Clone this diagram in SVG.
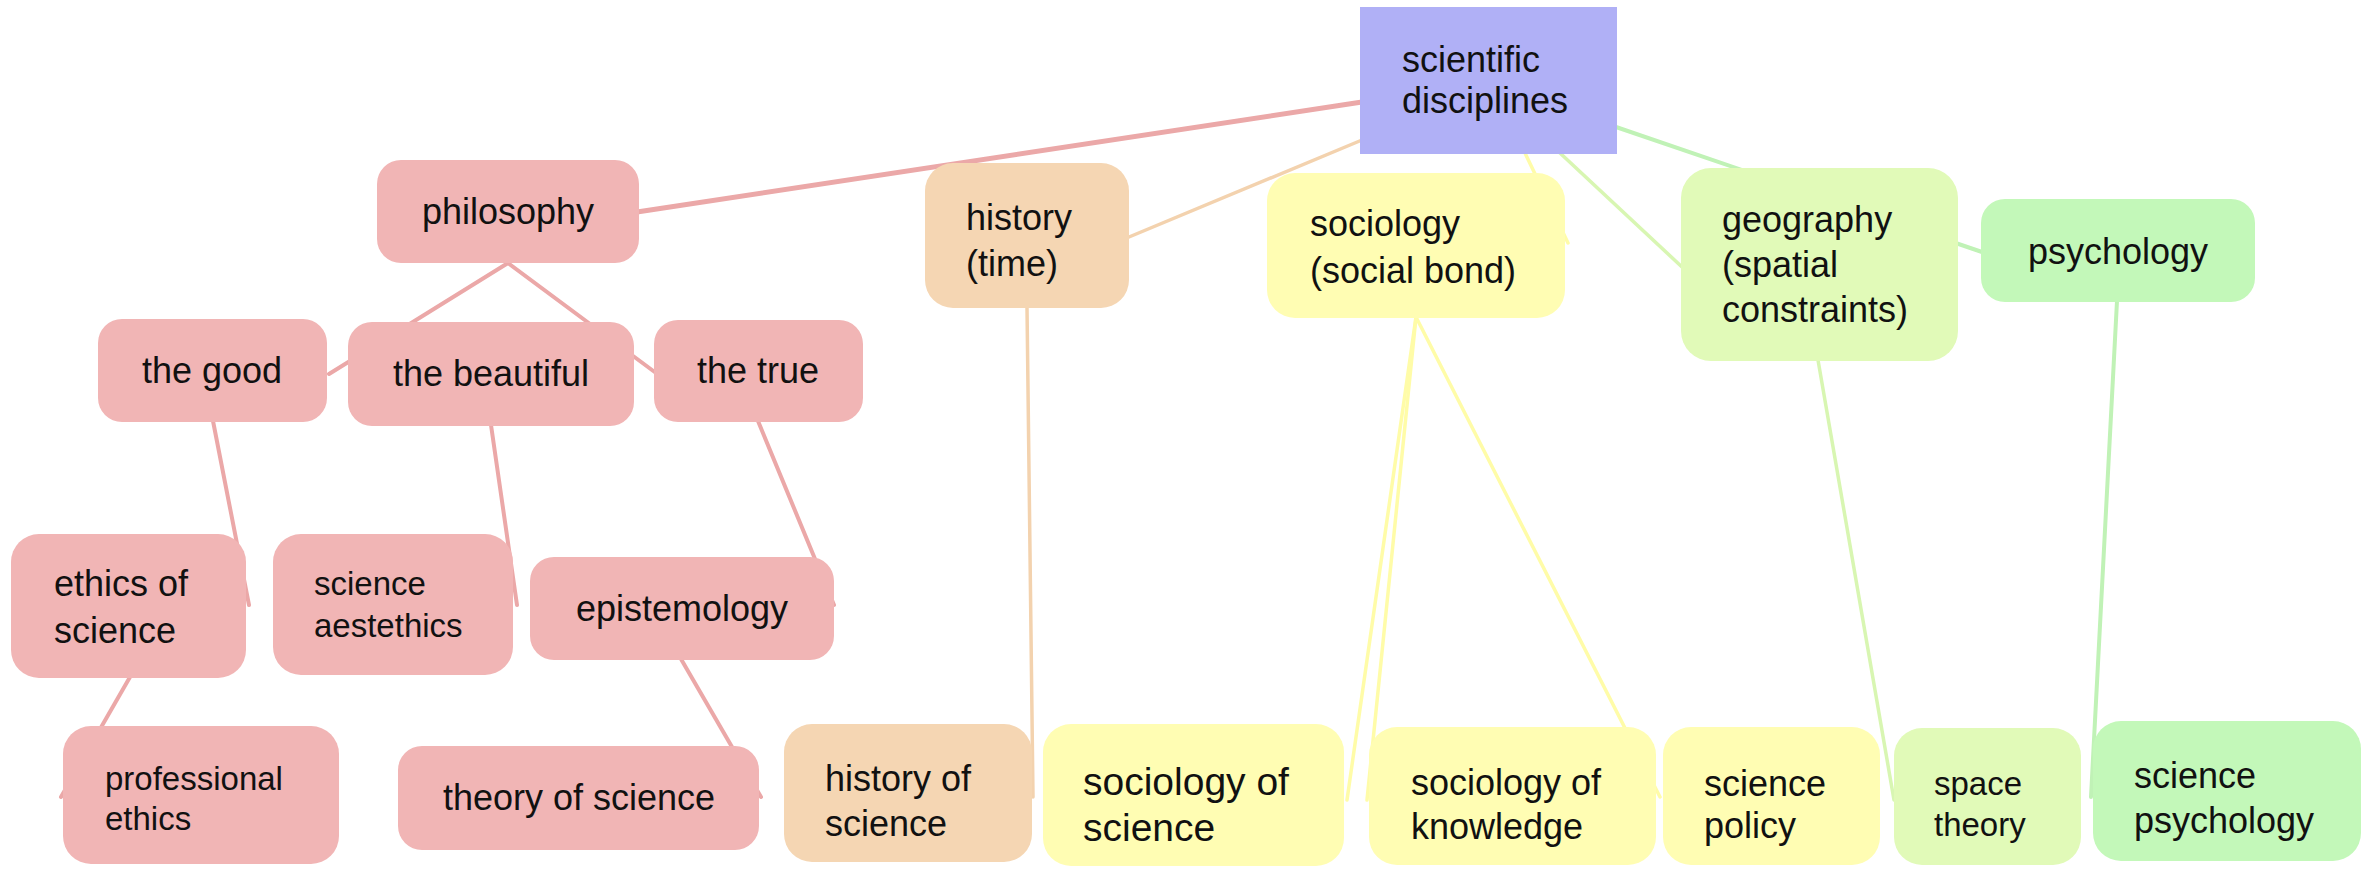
<svg xmlns="http://www.w3.org/2000/svg" width="2374" height="870" viewBox="0 0 2374 870">
<style>
text{font-family:"Liberation Sans",Arial,Helvetica,sans-serif;font-size:36px;fill:#111}
.c{text-anchor:middle}
.sm{font-size:33px}
.lg{font-size:39px}
.pk rect{fill:#F1B5B5}
.or rect{fill:#F5D6B3}
.ye rect{fill:#FFFDB3}
.li rect{fill:#E1FAB8}
.gr rect{fill:#C3F8B9}
line{fill:none;stroke-linecap:round}
.lp{stroke:#EBA8A8;stroke-width:5}
.lo{stroke:#F3D2AE;stroke-width:3.5}
.ly{stroke:#FFFCA8;stroke-width:3.5}
.ll{stroke:#D8F6B2;stroke-width:3.5}
.lg2{stroke:#C0F2B6;stroke-width:4}
</style>
<rect width="2374" height="870" fill="#ffffff"/>
<g id="connectors">
<line class="lp" x1="1362" y1="102" x2="637" y2="212"/>
<line class="lp" style="stroke-width:4" x1="508" y1="263" x2="329" y2="374"/>
<line class="lp" style="stroke-width:4" x1="508" y1="263" x2="656" y2="373"/>
<line class="lp" style="stroke-width:4" x1="213" y1="421" x2="249" y2="605"/>
<line class="lp" style="stroke-width:4" x1="491" y1="425" x2="517" y2="605"/>
<line class="lp" style="stroke-width:4" x1="758" y1="421" x2="834" y2="605"/>
<line class="lp" style="stroke-width:4" x1="130" y1="677" x2="61" y2="797"/>
<line class="lp" style="stroke-width:4" x1="681" y1="659" x2="761" y2="797"/>
<line class="lo" x1="1362" y1="140" x2="1129" y2="237"/>
<line class="lo" x1="1027" y1="307" x2="1033" y2="797"/>
<line class="ly" x1="1525" y1="153" x2="1568" y2="243"/>
<line class="ly" x1="1416" y1="317" x2="1347" y2="800"/>
<line class="ly" x1="1416" y1="317" x2="1367" y2="800"/>
<line class="ly" x1="1416" y1="317" x2="1660" y2="797"/>
<line class="ll" x1="1560" y1="153" x2="1682" y2="267"/>
<line class="lg2" x1="1616" y1="127" x2="1982" y2="252"/>
<line class="ll" x1="1818" y1="360" x2="1894" y2="800"/>
<line class="lg2" x1="2117" y1="301" x2="2091" y2="797"/>
</g>
<g id="n-scientific-disciplines"><rect x="1360" y="7" width="257" height="147" fill="#B0B0F6"/><text x="1402" y="72">scientific</text><text x="1402" y="113">disciplines</text></g>
<g id="n-philosophy" class="pk"><rect x="377" y="160" width="262" height="103" rx="24"/><text class="c" x="508" y="224">philosophy</text></g>
<g id="n-history" class="or"><rect x="925" y="163" width="204" height="145" rx="28"/><text x="966" y="230">history</text><text x="966" y="276">(time)</text></g>
<g id="n-sociology" class="ye"><rect x="1267" y="173" width="298" height="145" rx="28"/><text x="1310" y="236">sociology</text><text x="1310" y="283">(social bond)</text></g>
<g id="n-geography" class="li"><rect x="1681" y="168" width="277" height="193" rx="30"/><text x="1722" y="232">geography</text><text x="1722" y="277">(spatial</text><text x="1722" y="322">constraints)</text></g>
<g id="n-psychology" class="gr"><rect x="1981" y="199" width="274" height="103" rx="24"/><text class="c" x="2118" y="264">psychology</text></g>
<g id="n-the-good" class="pk"><rect x="98" y="319" width="229" height="103" rx="24"/><text class="c" x="212" y="383">the good</text></g>
<g id="n-the-beautiful" class="pk"><rect x="348" y="322" width="286" height="104" rx="24"/><text class="c" x="491" y="386">the beautiful</text></g>
<g id="n-the-true" class="pk"><rect x="654" y="320" width="209" height="102" rx="24"/><text class="c" x="758" y="383">the true</text></g>
<g id="n-ethics-of-science" class="pk"><rect x="11" y="534" width="235" height="144" rx="28"/><text x="54" y="596">ethics of</text><text x="54" y="643">science</text></g>
<g id="n-science-aestethics" class="pk"><rect x="273" y="534" width="240" height="141" rx="28"/><text class="sm" x="314" y="595">science</text><text class="sm" x="314" y="637">aestethics</text></g>
<g id="n-epistemology" class="pk"><rect x="530" y="557" width="304" height="103" rx="24"/><text class="c" x="682" y="621">epistemology</text></g>
<g id="n-professional-ethics" class="pk"><rect x="63" y="726" width="276" height="138" rx="28"/><text class="sm" x="105" y="790">professional</text><text class="sm" x="105" y="830">ethics</text></g>
<g id="n-theory-of-science" class="pk"><rect x="398" y="746" width="361" height="104" rx="24"/><text class="c" x="579" y="810">theory of science</text></g>
<g id="n-history-of-science" class="or"><rect x="784" y="724" width="248" height="138" rx="28"/><text x="825" y="791">history of</text><text x="825" y="836">science</text></g>
<g id="n-sociology-of-science" class="ye"><rect x="1043" y="724" width="301" height="142" rx="28"/><text class="lg" x="1083" y="795">sociology of</text><text class="lg" x="1083" y="841">science</text></g>
<g id="n-sociology-of-knowledge" class="ye"><rect x="1369" y="727" width="287" height="138" rx="28"/><text x="1411" y="795">sociology of</text><text x="1411" y="839">knowledge</text></g>
<g id="n-science-policy" class="ye"><rect x="1663" y="727" width="217" height="138" rx="28"/><text x="1704" y="796">science</text><text x="1704" y="838">policy</text></g>
<g id="n-space-theory" class="li"><rect x="1894" y="728" width="187" height="137" rx="28"/><text class="sm" x="1934" y="795">space</text><text class="sm" x="1934" y="836">theory</text></g>
<g id="n-science-psychology" class="gr"><rect x="2093" y="721" width="268" height="140" rx="28"/><text x="2134" y="788">science</text><text x="2134" y="833">psychology</text></g>
</svg>
